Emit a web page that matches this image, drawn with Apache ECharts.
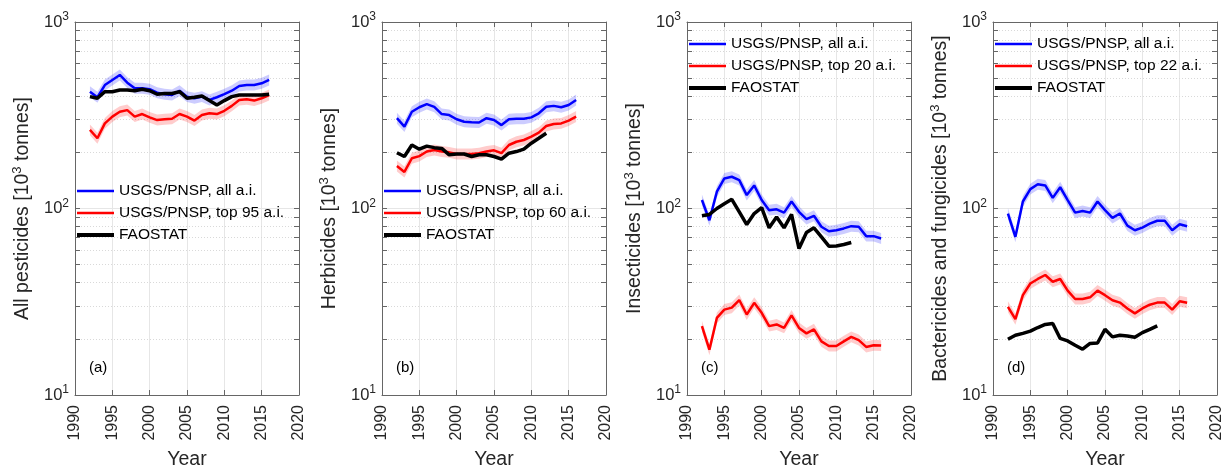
<!DOCTYPE html>
<html><head><meta charset="utf-8">
<script src="https://cdn.jsdelivr.net/npm/echarts@6/dist/echarts.min.js"></script>
<style>html,body{margin:0;padding:0;background:#fff}#c{width:1224px;height:468px}</style>
</head><body><div id="c"></div>
<script>
// ---------- DATA ----------
const years = [1992,1993,1994,1995,1996,1997,1998,1999,2000,2001,2002,2003,2004,2005,2006,2007,2008,2009,2010,2011,2012,2013,2014,2015,2016];
const faoYearsShort = [1992,1993,1994,1995,1996,1997,1998,1999,2000,2001,2002,2003,2004,2005,2006,2007,2008,2009,2010,2011,2012];
const xTicks = [1990,1995,2000,2005,2010,2015,2020];
const yMajor = [10,100,1000];
const yMinor = [20,30,40,50,60,70,80,90,200,300,400,500,600,700,800,900];

const a_all = [423,395,459,489,520,473,441,441,436,418,410,406,428,398,390,398,382,395,410,428,454,459,459,469,489];
const a_top = [264,238,286,311,330,337,311,321,308,298,301,303,321,311,296,317,324,321,334,355,382,385,379,390,406];
const a_fao = [398,390,423,423,432,432,428,436,428,410,414,414,423,390,395,401,379,359,379,398,406,406,406,406,410];

const b_all = [305,275,330,349,363,351,321,317,301,292,290,289,305,298,280,301,303,303,308,324,351,355,349,359,382];
const b_top = [169,157,186,191,202,206,202,200,196,196,196,198,202,205,198,219,228,233,243,255,277,284,286,296,311];
const b_fao = [199,190,219,208,216,212,210,194,196,196,190,194,194,190,184,198,202,208,224,238,253];

const c_all = [111,86.5,123,145,148,142,118,133,111,98,99,95,109,96,87.7,91.4,79.8,75.5,76.5,78.2,80.4,79.8,71.1,71.1,69];
const c_top = [23.4,17.5,25.9,28.7,29.4,32.3,27,31.2,27.6,23.4,23.9,22.9,26.7,22.9,21.4,22.5,19.4,18.3,18.3,19.4,20.5,19.7,18.1,18.5,18.4];
const c_fao = [91.4,92.9,100,106,112,96,82,94,101,78.8,90,78.8,92.9,61,74.3,78.8,70.5,62.8,63,64.1,65.7];

const d_all = [94,70.5,109,127,135,133,114,130,111,95,97,95,109,98,89,94,81,76.5,79,83,86,86,76.5,82.4,80.4];
const d_top = [29.7,25.5,34.3,39.6,41.9,44,40.5,41.9,36.3,32.7,32.7,33.4,36.3,34.3,32.2,31.3,29.1,27.4,29.1,30.5,31.3,31.3,28.7,31.8,31.2];
const d_fao = [19.9,20.9,21.4,22,23,23.9,24.2,20.1,19.5,18.5,17.6,18.9,19,22.5,20.5,20.9,20.7,20.4,21.6,22.5,23.5];

const panelLetters = ['(a)','(b)','(c)','(d)'];
const yNames = ['All pesticides','Herbicides','Insecticides','Bactericides and fungicides'];
const allLabel = 'USGS/PNSP, all a.i.';
const topLabels = ['USGS/PNSP, top 95 a.i.','USGS/PNSP, top 60 a.i.','USGS/PNSP, top 20 a.i.','USGS/PNSP, top 22 a.i.'];
const faoLabel = 'FAOSTAT';
const xName = 'Year';

// ---------- LAYOUT / STYLE ----------
const FONT = "'Liberation Sans', Arial, sans-serif";
const gridLefts = [75, 382, 687, 993];
const legendTops = [183, 183, 36, 36];
const GW = 224, GTOP = 22, GH = 373;
const bandFrac = 0.07;
const BLUE = '#0000ff', RED = '#ff0000', BLACK = '#000000';
const axisCol = '#666666', textCol = '#262626';

const allSets = [a_all,b_all,c_all,d_all];
const topSets = [a_top,b_top,c_top,d_top];
const faoSets = [a_fao,b_fao,c_fao,d_fao];
const faoYearSets = [years, faoYearsShort, faoYearsShort, faoYearsShort];

const pairs = (xs, vs) => xs.map((x,i)=>[x, vs[i]]);

const grids=[], xAxes=[], yAxes=[], series=[], legends=[], graphics=[];

const supRich = {
  b:{fontSize:16.5, color:textCol, fontFamily:FONT},
  s:{fontSize:12, color:textCol, fontFamily:FONT, padding:[0,0,10,0]}
};
const nameRich = {
  n:{fontSize:19.5, color:textCol, fontFamily:FONT},
  s:{fontSize:13, color:textCol, fontFamily:FONT, padding:[0,0,11,0]}
};

function bandSeries(gi, xs, vals, color){
  return {
    type:'custom', name:'band'+gi+color, xAxisIndex:gi*2, yAxisIndex:gi*2, silent:true, z:1,
    data:[[xs[0], vals[0]]],
    renderItem:function(params, api){
      const up=[], lo=[];
      for(let k=0;k<xs.length;k++){
        up.push(api.coord([xs[k], vals[k]*(1+bandFrac)]));
        lo.push(api.coord([xs[k], vals[k]/(1+bandFrac)]));
      }
      return {type:'polygon', shape:{points:up.concat(lo.reverse())}, style:{fill:color}};
    }
  };
}

for(let i=0;i<4;i++){
  grids.push({left:gridLefts[i], top:GTOP, width:GW, height:GH, containLabel:false, outerBoundsMode:'none'});
  xAxes.push({
    gridIndex:i, type:'value', min:1990, max:2020, interval:5, position:'bottom',
    name:xName, nameLocation:'middle', nameGap:55,
    nameTextStyle:{fontSize:19.5, color:textCol, fontFamily:FONT},
    axisLine:{show:true, onZero:false, lineStyle:{color:axisCol, width:1}},
    axisTick:{show:true, inside:true, length:5, lineStyle:{color:axisCol}},
    axisLabel:{rotate:90, fontSize:16, color:textCol, fontFamily:FONT, margin:10, formatter:function(v){return String(v);}},
    splitLine:{show:true, lineStyle:{color:'#e6e6e6', width:1}}
  });
  xAxes.push({
    gridIndex:i, type:'value', min:1990, max:2020, interval:5, position:'top',
    axisLine:{show:true, onZero:false, lineStyle:{color:axisCol, width:1}},
    axisTick:{show:true, inside:true, length:5, lineStyle:{color:axisCol}},
    axisLabel:{show:false}, splitLine:{show:false}
  });
  yAxes.push({
    gridIndex:i, type:'log', logBase:10, min:10, max:1000, position:'left',
    name:'{n|'+yNames[i]+' [10}{s|3}{n| tonnes]}', nameLocation:'middle', nameGap:40,
    nameTextStyle:{rich:nameRich},
    axisLine:{show:true, onZero:false, lineStyle:{color:axisCol, width:1}},
    axisTick:{show:true, inside:true, length:5, lineStyle:{color:axisCol}, customValues:yMajor.concat(yMinor)},
    axisLabel:{margin:6, customValues:yMajor, formatter:function(v){return '{b|10}{s|'+Math.round(Math.log10(v))+'}';}, rich:supRich},
    splitLine:{show:false}
  });
  yAxes.push({
    gridIndex:i, type:'log', logBase:10, min:10, max:1000, position:'right',
    axisLine:{show:true, onZero:false, lineStyle:{color:axisCol, width:1}},
    axisTick:{show:true, inside:true, length:5, lineStyle:{color:axisCol}, customValues:yMajor.concat(yMinor)},
    axisLabel:{show:false}, splitLine:{show:false}
  });
  // grid lines (major solid, minor dotted), kept behind the data
  series.push({
    type:'line', name:'grid'+i, xAxisIndex:i*2, yAxisIndex:i*2, data:[], silent:true, z:0,
    markLine:{silent:true, symbol:'none', label:{show:false}, animation:false, z:0,
      data: yMinor.map(v=>({yAxis:v, lineStyle:{color:'#d9d9d9', type:[1,2], width:1}}))
        .concat([{yAxis:100, lineStyle:{color:'#e6e6e6', type:'solid', width:1}}])}
  });
  series.push(bandSeries(i, years, allSets[i], 'rgba(0,0,255,0.2)'));
  series.push(bandSeries(i, years, topSets[i], 'rgba(255,0,0,0.2)'));
  series.push({type:'line', name:allLabel, xAxisIndex:i*2, yAxisIndex:i*2, data:pairs(years, allSets[i]),
    symbol:'none', showSymbol:false, z:3, lineStyle:{color:BLUE, width:2.5}, itemStyle:{color:BLUE}});
  series.push({type:'line', name:topLabels[i], xAxisIndex:i*2, yAxisIndex:i*2, data:pairs(years, topSets[i]),
    symbol:'none', showSymbol:false, z:3, lineStyle:{color:RED, width:2.5}, itemStyle:{color:RED}});
  series.push({type:'line', name:faoLabel, xAxisIndex:i*2, yAxisIndex:i*2, data:pairs(faoYearSets[i], faoSets[i]),
    symbol:'none', showSymbol:false, z:4, lineStyle:{color:BLACK, width:3.5}, itemStyle:{color:BLACK}});
  legends.push({
    left:gridLefts[i]+2, top:legendTops[i], orient:'vertical', itemWidth:37, itemHeight:14, itemGap:6, padding:0,
    selectedMode:false, symbolKeepAspect:true, z:10,
    itemStyle:{borderWidth:0, borderColor:'transparent'},
    textStyle:{fontSize:15.5, color:'#000', fontFamily:FONT},
    data:[
      {name:allLabel, icon:'path://M0,0H37V2.5H0Z', itemStyle:{color:BLUE, borderWidth:0}},
      {name:topLabels[i], icon:'path://M0,0H37V2.5H0Z', itemStyle:{color:RED, borderWidth:0}},
      {name:faoLabel, icon:'path://M0,0H37V4H0Z', itemStyle:{color:BLACK, borderWidth:0}}
    ]
  });
  graphics.push({type:'text', left:gridLefts[i]+14, top:360, style:{text:panelLetters[i], fontSize:15, fill:'#000', fontFamily:FONT}});
}

const chart = echarts.init(document.getElementById('c'), null, {renderer:'canvas'});
chart.setOption({
  animation:false, backgroundColor:'#fff',
  grid:grids, xAxis:xAxes, yAxis:yAxes, series:series, legend:legends, graphic:graphics
});
</script></body></html>
